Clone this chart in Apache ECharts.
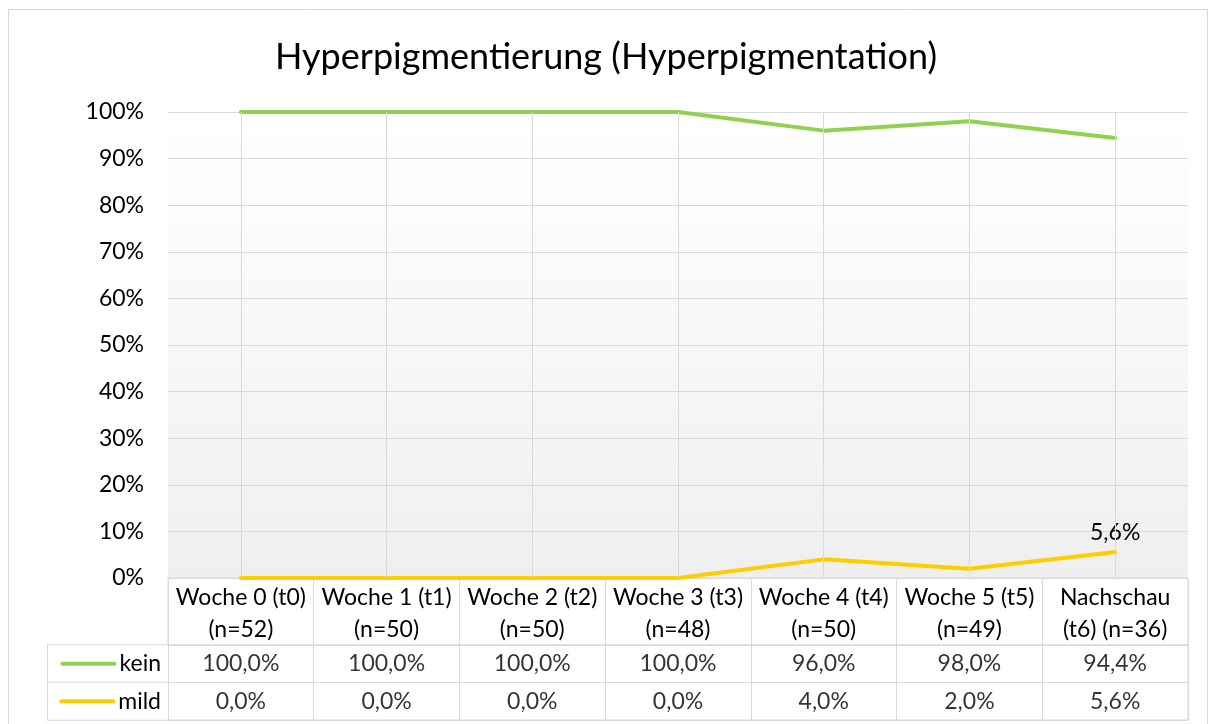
<!DOCTYPE html>
<html>
<head>
<meta charset="utf-8">
<script src="https://cdn.jsdelivr.net/npm/echarts@6/dist/echarts.min.js"></script>
<style>
  html, body { margin: 0; padding: 0; background: #fff; }
  #chart { width: 1212px; height: 724px; }
</style>
</head>
<body>
<div id="chart"></div>
<script>
// Daten
const categories = [
  'Woche 0 (t0)\n(n=52)',
  'Woche 1 (t1)\n(n=50)',
  'Woche 2 (t2)\n(n=50)',
  'Woche 3 (t3)\n(n=48)',
  'Woche 4 (t4)\n(n=50)',
  'Woche 5 (t5)\n(n=49)',
  'Nachschau\n(t6) (n=36)'
];
const kein = [100, 100, 100, 100, 96, 98, 94.4];
const mild = [0, 0, 0, 0, 4, 2, 5.6];
const rowNames = ['kein', 'mild'];
const yMin = 0, yMax = 100, yStep = 10;

const FONT = 'Lato, sans-serif';
const FS = 23;
const GREEN = '#92d050';
const YELLOW = '#ffcc00';
const GRID = '#d9d9d9';

const fmt = v => v.toFixed(1).replace('.', ',') + '%';

const chart = echarts.init(document.getElementById('chart'));

// Tabellenwerte als unsichtbare Punkte mit Label
const cellData = [];
categories.forEach((c, i) => {
  cellData.push([i, 'kein', kein[i]]);
  cellData.push([i, 'mild', mild[i]]);
});

const hiddenCatAxis = gi => ({
  type: 'category', gridIndex: gi, data: categories,
  axisLabel: { show: false }, axisTick: { show: false }, axisLine: { show: false },
  splitLine: { show: true, interval: 0, lineStyle: { color: GRID, width: 1 } }
});

chart.setOption({
  backgroundColor: '#fff',
  textStyle: { fontFamily: FONT },
  title: {
    text: 'Hyperpigmentierung (Hyperpigmentation)',
    left: 'center', top: 34,
    textStyle: { fontFamily: FONT, fontSize: 36, fontWeight: 'normal', color: '#000' }
  },
  graphic: [{
    type: 'rect', silent: true, z: -1,
    shape: { x: 8.5, y: 9.5, width: 1199, height: 720 },
    style: { fill: 'none', stroke: GRID, lineWidth: 1 }
  }],
  grid: [
    { left: 168, right: 24, top: 112, height: 466, show: true, borderWidth: 0,
      backgroundColor: { type: 'linear', x: 0, y: 0, x2: 0, y2: 1,
        colorStops: [{ offset: 0, color: '#ffffff' }, { offset: 1, color: '#efefef' }] } },
    { left: 168, right: 24, top: 578, height: 67, show: true, borderColor: GRID, borderWidth: 1, backgroundColor: '#fff' },
    { left: 168, right: 24, top: 645, height: 75, show: true, borderColor: GRID, borderWidth: 1, backgroundColor: '#fff' }
  ],
  xAxis: [
    {
      type: 'category', gridIndex: 0, data: categories, boundaryGap: true,
      axisLine: { show: true, lineStyle: { color: GRID, width: 1 } },
      axisTick: { show: false },
      splitLine: { show: false },
      axisLabel: { interval: 0, margin: 4, fontSize: FS, lineHeight: 32, color: '#000', fontFamily: FONT }
    },
    hiddenCatAxis(1),
    hiddenCatAxis(2)
  ],
  yAxis: [
    {
      type: 'value', gridIndex: 0, min: yMin, max: yMax, interval: yStep,
      axisLine: { show: false }, axisTick: { show: false },
      splitLine: { show: true, lineStyle: { color: GRID, width: 1 } },
      axisLabel: { formatter: '{value}%', fontSize: FS, color: '#000', margin: 24, fontFamily: FONT }
    },
    {
      type: 'value', gridIndex: 1, min: 0, max: 1,
      axisLine: { show: false }, axisTick: { show: false }, axisLabel: { show: false }, splitLine: { show: false }
    },
    {
      type: 'category', gridIndex: 2, data: rowNames, inverse: true,
      axisLine: { show: false }, axisTick: { show: false },
      splitLine: { show: true, interval: 0, lineStyle: { color: GRID, width: 1 } },
      axisLabel: {
        interval: 0, margin: 0,
        width: 113, height: 37, lineHeight: 37, padding: [0, 7, 0, 0],
        backgroundColor: '#fff', borderColor: GRID, borderWidth: 1,
        align: 'right',
        formatter: v => `{${v}|}{t|${v}}`,
        rich: {
          kein: { width: 56, height: 4, backgroundColor: GREEN, borderRadius: 2, verticalAlign: 'middle' },
          mild: { width: 56, height: 4, backgroundColor: YELLOW, borderRadius: 2, verticalAlign: 'middle' },
          t: { fontSize: FS, color: '#000', fontFamily: FONT, padding: [0, 0, 0, 3], verticalAlign: 'middle' }
        }
      }
    }
  ],
  series: [
    {
      // senkrechte Gitterlinien auf den Kategorien
      type: 'line', xAxisIndex: 0, yAxisIndex: 0, data: [], z: 1, silent: true,
      markLine: {
        silent: true, symbol: 'none', label: { show: false },
        lineStyle: { color: GRID, type: 'solid', width: 1 },
        data: categories.map(c => ({ xAxis: c }))
      }
    },
    {
      name: 'kein', type: 'line', xAxisIndex: 0, yAxisIndex: 0, z: 3,
      data: kein, symbol: 'none', color: GREEN,
      lineStyle: { width: 4, color: GREEN, cap: 'round', join: 'round' }
    },
    {
      name: 'mild', type: 'line', xAxisIndex: 0, yAxisIndex: 0, z: 3,
      data: mild.map((v, i) => i === mild.length - 1
        ? { value: v, label: { show: true, position: 'top', distance: 8, formatter: p => fmt(p.value), fontSize: FS, color: '#000', fontFamily: FONT } }
        : v),
      symbol: 'circle', symbolSize: 0, showSymbol: true, color: YELLOW,
      lineStyle: { width: 4, color: YELLOW, cap: 'round', join: 'round' }
    },
    {
      type: 'scatter', xAxisIndex: 2, yAxisIndex: 2, symbolSize: 0, silent: true,
      data: cellData,
      label: { show: true, position: 'inside', formatter: p => fmt(p.value[2]), fontSize: FS, color: '#000', fontFamily: FONT }
    }
  ]
});
</script>
</body>
</html>
